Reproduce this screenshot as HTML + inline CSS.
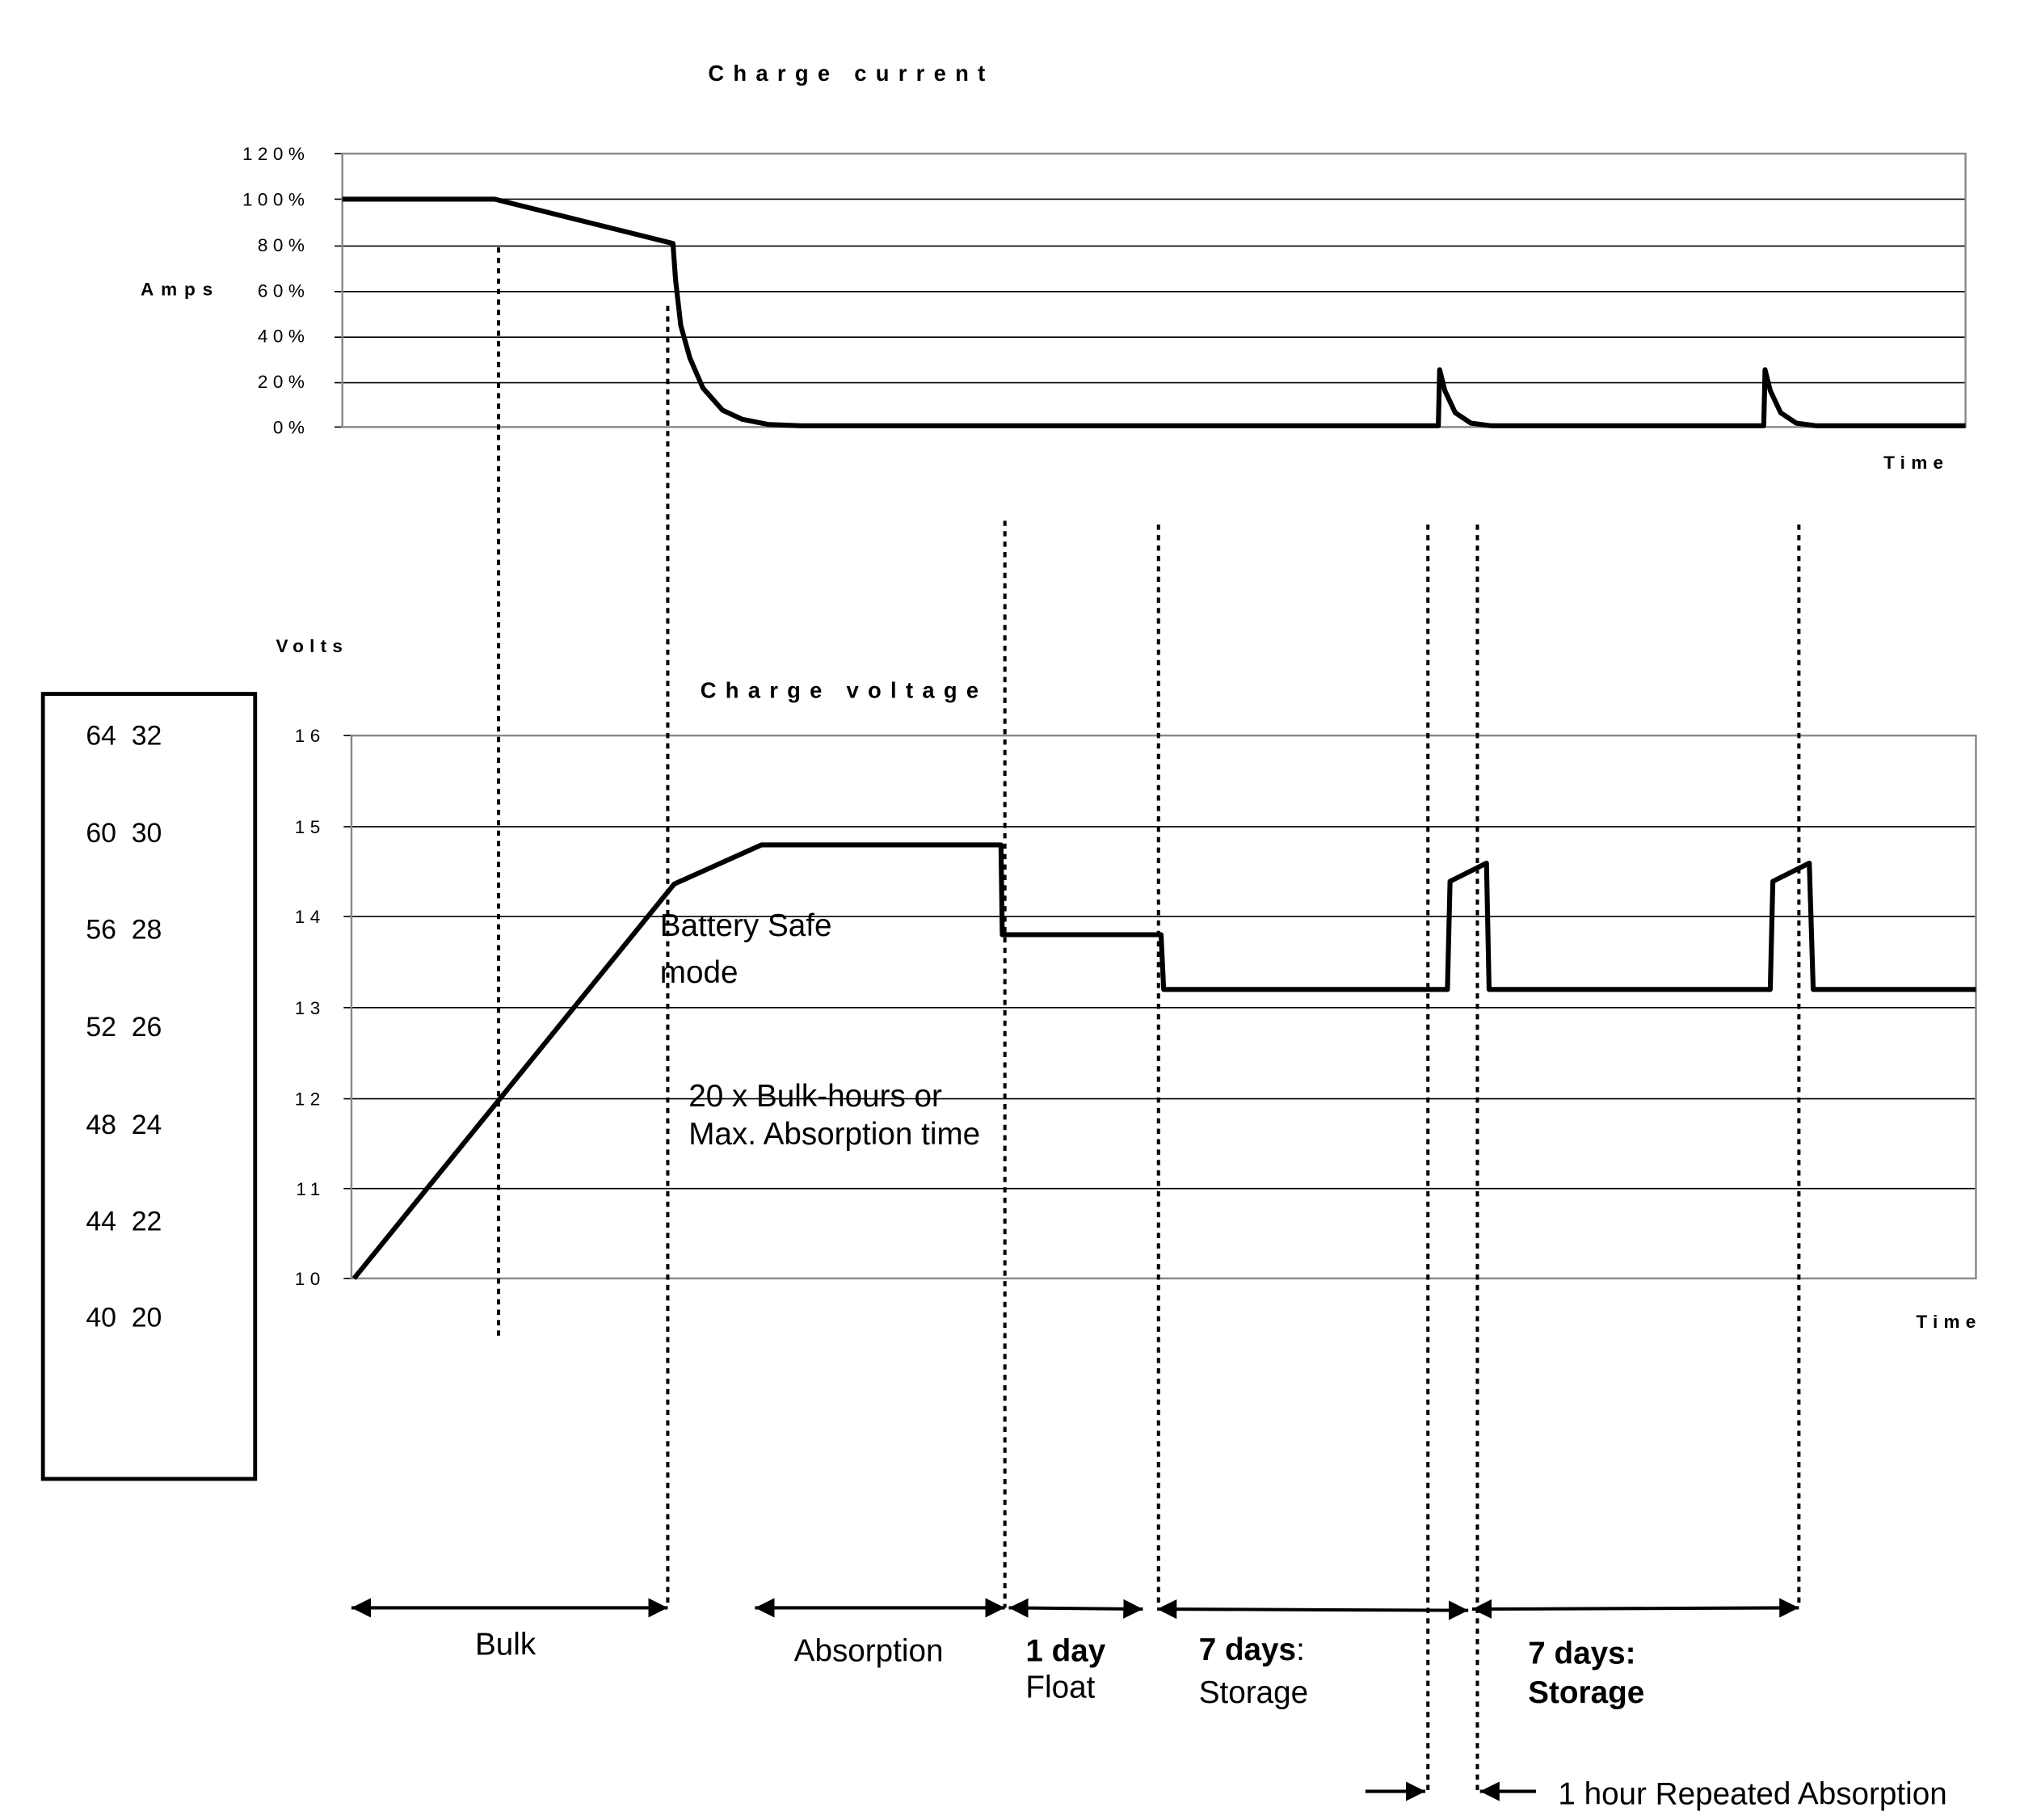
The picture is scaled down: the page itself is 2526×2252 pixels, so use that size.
<!DOCTYPE html>
<html><head><meta charset="utf-8"><style>
html,body{margin:0;padding:0;background:#fff}
svg{display:block}
text{font-family:"Liberation Sans",sans-serif;fill:#000}
.t{font-weight:bold;font-size:17px;letter-spacing:7px}
.ax{font-size:14px;letter-spacing:4px}
.g{stroke:#000;stroke-width:1}
.fr{stroke:#888;stroke-width:1.5;fill:none}
.c{fill:none;stroke:#000;stroke-width:3.8;stroke-linejoin:round}
.d{stroke:#000;stroke-width:2.5;stroke-dasharray:4 4}
.a{stroke:#000;stroke-width:2.5}
.l{font-size:24px}
</style></head><body>
<svg width="2526" height="2252" viewBox="0 0 1568 1398" preserveAspectRatio="none" xmlns="http://www.w3.org/2000/svg">
<defs>
<marker id="ar" viewBox="0 0 10 10" refX="10" refY="5" markerWidth="6" markerHeight="6" orient="auto-start-reverse"><path d="M0,0L10,5L0,10z" fill="#000"/></marker>
</defs>
<text class="t" x="544" y="62">Charge current</text>
<g class="g">
<line x1="257" y1="153" x2="1510" y2="153"/><line x1="257" y1="189" x2="1510" y2="189"/>
<line x1="257" y1="224" x2="1510" y2="224"/><line x1="257" y1="259" x2="1510" y2="259"/>
<line x1="257" y1="294" x2="1510" y2="294"/><line x1="257" y1="118" x2="263" y2="118"/><line x1="257" y1="328" x2="263" y2="328"/>
<line x1="263" y1="118" x2="263" y2="328"/>
</g>
<rect class="fr" x="263" y="118" width="1247" height="210"/>
<g class="ax" text-anchor="end">
<text x="238" y="123">120%</text><text x="238" y="158">100%</text><text x="238" y="193">80%</text>
<text x="238" y="228">60%</text><text x="238" y="263">40%</text><text x="238" y="298">20%</text><text x="238" y="333">0%</text>
</g>
<text x="108" y="227" style="font-weight:bold;font-size:14px;letter-spacing:5.5px">Amps</text>
<text x="1447" y="360" style="font-weight:bold;font-size:14px;letter-spacing:4.5px">Time</text>
<path class="c" d="M263,153L380,153L517,187L519,215L523,250L530,275L540,298L555,315L570,322L590,326L615,327L1105,327L1106,284L1110,300L1118,317L1130,325L1145,327L1355,327L1356,284L1360,300L1368,317L1380,325L1395,327L1510,327"/>
<text x="212" y="501" style="font-weight:bold;font-size:14px;letter-spacing:4.5px">Volts</text>
<text class="t" x="538" y="536">Charge voltage</text>
<g class="g">
<line x1="264" y1="635" x2="1518" y2="635"/><line x1="264" y1="704" x2="1518" y2="704"/>
<line x1="264" y1="774" x2="1518" y2="774"/><line x1="264" y1="844" x2="1518" y2="844"/>
<line x1="264" y1="913" x2="1518" y2="913"/><line x1="264" y1="565" x2="270" y2="565"/><line x1="264" y1="982" x2="270" y2="982"/>
<line x1="270" y1="565" x2="270" y2="982"/>
</g>
<rect class="fr" x="270" y="565" width="1248" height="417"/>
<g class="ax" text-anchor="end">
<text x="250" y="570">16</text><text x="250" y="640">15</text><text x="250" y="709">14</text><text x="250" y="779">13</text>
<text x="250" y="849">12</text><text x="250" y="918">11</text><text x="250" y="987">10</text>
</g>
<text x="1472" y="1020" style="font-weight:bold;font-size:14px;letter-spacing:4.5px">Time</text>
<path class="c" d="M272,982L518,679L585,649L769,649L770,718L892,718L894,760L1112,760L1114,677L1142,663L1144,760L1360,760L1362,677L1390,663L1393,760L1518,760"/>
<rect x="33" y="533" width="163" height="603" fill="none" stroke="#000" stroke-width="3"/>
<g style="font-size:21px">
<text x="66" y="572">64&#160;&#160;32</text><text x="66" y="647">60&#160;&#160;30</text><text x="66" y="721">56&#160;&#160;28</text>
<text x="66" y="796">52&#160;&#160;26</text><text x="66" y="871">48&#160;&#160;24</text><text x="66" y="945">44&#160;&#160;22</text><text x="66" y="1019">40&#160;&#160;20</text>
</g>
<line class="d" x1="383" y1="190" x2="383" y2="1027"/>
<line class="d" x1="513" y1="235" x2="513" y2="1235"/>
<line class="d" x1="772" y1="400" x2="772" y2="1235"/>
<line class="d" x1="890" y1="403" x2="890" y2="1235"/>
<line class="d" x1="1097" y1="403" x2="1097" y2="1378"/>
<line class="d" x1="1135" y1="403" x2="1135" y2="1378"/>
<line class="d" x1="1382" y1="403" x2="1382" y2="1235"/>
<text class="l" x="507" y="719">Battery Safe</text>
<text class="l" x="507" y="755">mode</text>
<text class="l" x="529" y="850">20 x Bulk-hours or</text>
<text class="l" x="529" y="879">Max. Absorption time</text>
<line class="a" x1="270" y1="1235" x2="513" y2="1235" marker-start="url(#ar)" marker-end="url(#ar)"/>
<line class="a" x1="580" y1="1235" x2="772" y2="1235" marker-start="url(#ar)" marker-end="url(#ar)"/>
<line class="a" x1="775" y1="1235" x2="878" y2="1236" marker-start="url(#ar)" marker-end="url(#ar)"/>
<line class="a" x1="889" y1="1236" x2="1128" y2="1237" marker-start="url(#ar)" marker-end="url(#ar)"/>
<line class="a" x1="1131" y1="1236" x2="1382" y2="1235" marker-start="url(#ar)" marker-end="url(#ar)"/>
<line class="a" x1="1049" y1="1376" x2="1095" y2="1376" marker-end="url(#ar)"/>
<line class="a" x1="1180" y1="1376" x2="1137" y2="1376" marker-end="url(#ar)"/>
<text class="l" x="365" y="1271">Bulk</text>
<text class="l" x="610" y="1276">Absorption</text>
<text class="l" x="788" y="1276" font-weight="bold">1 day</text>
<text class="l" x="788" y="1304">Float</text>
<text class="l" x="921" y="1275"><tspan font-weight="bold">7 days</tspan>:</text>
<text class="l" x="921" y="1308">Storage</text>
<text class="l" x="1174" y="1278" font-weight="bold">7 days:</text>
<text class="l" x="1174" y="1308" font-weight="bold">Storage</text>
<text class="l" x="1197" y="1386">1 hour Repeated Absorption</text>
</svg>
</body></html>
